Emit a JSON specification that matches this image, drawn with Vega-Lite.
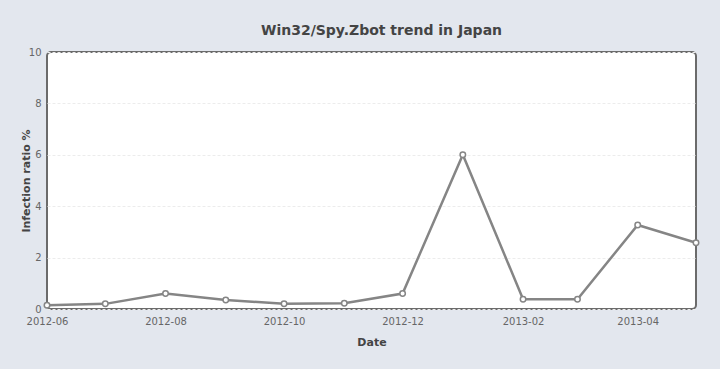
{
  "$schema": "https://vega.github.io/schema/vega-lite/v6.json",
  "width": 649,
  "height": 257,
  "autosize": {"type": "none"},
  "padding": {"left": 47, "top": 52, "right": 24, "bottom": 60},
  "background": "#e3e7ee",
  "title": {
    "text": "Win32/Spy.Zbot trend in Japan",
    "font": "DejaVu Sans",
    "fontSize": 14,
    "fontWeight": "bold",
    "color": "#444444",
    "anchor": "middle",
    "offset": 9,
    "dx": 10
  },
  "config": {
    "view": {"fill": "white", "stroke": "#6b6b6b", "strokeWidth": 2, "cornerRadius": 4},
    "axis": {
      "labelFont": "DejaVu Sans",
      "labelFontSize": 10,
      "labelColor": "#666666",
      "titleFont": "DejaVu Sans",
      "titleFontSize": 11,
      "titleFontWeight": "bold",
      "titleColor": "#444444",
      "domain": false,
      "ticks": false
    }
  },
  "data": {
    "values": [
      {"date": "2012-06-01", "ratio": 0.15},
      {"date": "2012-07-01", "ratio": 0.2},
      {"date": "2012-08-01", "ratio": 0.6},
      {"date": "2012-09-01", "ratio": 0.35},
      {"date": "2012-10-01", "ratio": 0.2},
      {"date": "2012-11-01", "ratio": 0.22},
      {"date": "2012-12-01", "ratio": 0.6},
      {"date": "2013-01-01", "ratio": 6.0},
      {"date": "2013-02-01", "ratio": 0.38},
      {"date": "2013-03-01", "ratio": 0.38},
      {"date": "2013-04-01", "ratio": 3.27},
      {"date": "2013-05-01", "ratio": 2.58}
    ]
  },
  "encoding": {
    "x": {
      "field": "date",
      "type": "temporal",
      "scale": {"type": "utc", "nice": false},
      "axis": {
        "title": "Date",
        "format": "%Y-%m",
        "values": [
          {"year": 2012, "month": 6, "date": 1, "utc": true},
          {"year": 2012, "month": 8, "date": 1, "utc": true},
          {"year": 2012, "month": 10, "date": 1, "utc": true},
          {"year": 2012, "month": 12, "date": 1, "utc": true},
          {"year": 2013, "month": 2, "date": 1, "utc": true},
          {"year": 2013, "month": 4, "date": 1, "utc": true}
        ],
        "grid": false,
        "labelPadding": 7,
        "titleY": 27,
        "labelFlush": false,
        "labelOverlap": false
      }
    },
    "y": {
      "field": "ratio",
      "type": "quantitative",
      "scale": {"domain": [0, 10], "nice": false},
      "axis": {
        "title": "Infection ratio %",
        "values": [0, 2, 4, 6, 8, 10],
        "grid": true,
        "gridColor": "#ececec",
        "gridDash": [3, 2],
        "labelPadding": 6,
        "titleX": -21,
        "titleBaseline": "middle"
      }
    }
  },
  "layer": [
    {"mark": {"type": "line", "color": "#858585", "strokeWidth": 2.5}},
    {"mark": {"type": "point", "filled": true, "fill": "white", "stroke": "#858585", "strokeWidth": 1.5, "size": 30, "opacity": 1}}
  ]
}
